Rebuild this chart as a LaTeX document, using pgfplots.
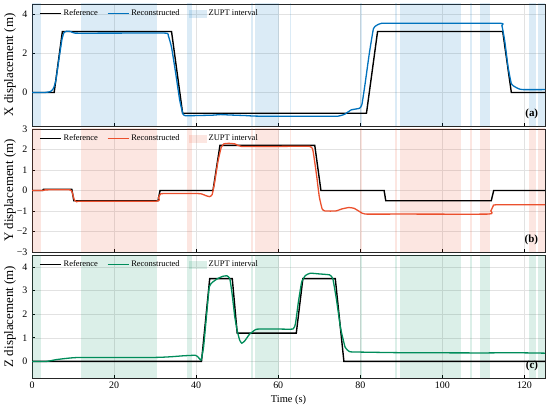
\documentclass[border=0pt]{standalone}
\usepackage{fontspec}
\setmainfont{Liberation Serif}
\usepackage{pgfplots}
\pgfplotsset{compat=1.18}
\definecolor{cblue}{RGB}{0,114,189}
\definecolor{cred}{RGB}{235,80,45}
\definecolor{cgreen}{RGB}{0,140,90}
\definecolor{gridc}{RGB}{226,226,226}

\pgfplotsset{
  myaxis/.style={
    scale only axis, width=513bp, anchor=south west,
    xmin=0, xmax=125, xtick={0,20,...,120},
    grid=major, grid style={gridc, line width=0.5bp},
    tick align=inside, xtick pos=bottom, ytick pos=left,
    major tick length=3bp, tick style={black, line width=0.6bp},
    axis line style={black!85, line width=0.8bp},
    ticklabel style={font=\fontsize{10}{12}\selectfont},
    yticklabel style={xshift=-1bp},
    /pgf/number format/assume math mode=true,
    ylabel style={font=\fontsize{13}{15}\selectfont, at={(axis description cs:-0.031,0.5)}, anchor=south, inner sep=0pt},
    xlabel style={font=\fontsize{10.5}{12}\selectfont},
    legend style={draw=none, fill=none, at={(0.008,0.985)}, anchor=north west,
      font=\fontsize{8.5}{10}\selectfont, legend columns=-1,
      /tikz/every even column/.append style={column sep=7bp}},
  },
}

\newcommand{\zupt}[1]{%
\addplot[draw=none, fill=#1, fill opacity=0.14, forget plot] coordinates {(0,-10) (0,10) (2.1,10) (2.1,-10)};
\addplot[draw=none, fill=#1, fill opacity=0.14, forget plot] coordinates {(11.85,-10) (11.85,10) (30.5,10) (30.5,-10)};
\addplot[draw=none, fill=#1, fill opacity=0.14, forget plot] coordinates {(37.8,-10) (37.8,10) (38.9,10) (38.9,-10)};
\addplot[draw=none, fill=#1, fill opacity=0.14, forget plot] coordinates {(53.45,-10) (53.45,10) (53.8,10) (53.8,-10)};
\addplot[draw=none, fill=#1, fill opacity=0.14, forget plot] coordinates {(54.3,-10) (54.3,10) (60.1,10) (60.1,-10)};
\addplot[draw=none, fill=#1, fill opacity=0.14, forget plot] coordinates {(62.75,-10) (62.75,10) (63.2,10) (63.2,-10)};
\addplot[draw=none, fill=#1, fill opacity=0.14, forget plot] coordinates {(79.9,-10) (79.9,10) (80.3,10) (80.3,-10)};
\addplot[draw=none, fill=#1, fill opacity=0.14, forget plot] coordinates {(88.4,-10) (88.4,10) (89.0,10) (89.0,-10)};
\addplot[draw=none, fill=#1, fill opacity=0.14, forget plot] coordinates {(89.6,-10) (89.6,10) (104.6,10) (104.6,-10)};
\addplot[draw=none, fill=#1, fill opacity=0.14, forget plot] coordinates {(106.8,-10) (106.8,10) (107.2,10) (107.2,-10)};
\addplot[draw=none, fill=#1, fill opacity=0.14, forget plot] coordinates {(109.2,-10) (109.2,10) (111.5,10) (111.5,-10)};
\addplot[draw=none, fill=#1, fill opacity=0.14, forget plot] coordinates {(121.2,-10) (121.2,10) (122.7,10) (122.7,-10)};
\addplot[draw=none, fill=#1, fill opacity=0.14, forget plot] coordinates {(123.2,-10) (123.2,10) (125.5,10) (125.5,-10)};
}
\newcommand{\reflegend}{legend image code/.code={\draw[black, line width=1.4bp] (0bp,0bp) -- (21bp,0bp);}}

\begin{document}
\begin{tikzpicture}
\useasboundingbox (0,0) rectangle (550bp,408bp);

% ---------------- (a) X ----------------
\begin{axis}[myaxis, at={(32bp,282bp)}, height=122bp,
  ymin=-1.7, ymax=4.5, ytick={0,2,4}, xticklabels={},
  ylabel={X displacement (m)}]
\zupt{cblue}
\addplot[black, line width=1.4bp, legend image code/.code={\draw[black, line width=1.4bp] (0bp,0bp) -- (21bp,0bp);}] coordinates {(0,0) (5.4,0) (7.4,3.1) (34.0,3.1) (36.7,-1.05) (81.5,-1.05) (84.2,3.1) (114.7,3.1) (116.8,0) (125,0)};
\addplot[cblue, line width=1.3bp, smooth, tension=0.25, legend image code/.code={\draw[cblue, line width=1.3bp] (0bp,0bp) -- (21bp,0bp);}] coordinates {(0,0) (3,0) (4.5,0.05) (5.2,0.2) (5.8,0.6) (6.5,1.6) (7.3,2.7) (7.8,3.05) (8.5,3.12) (9.5,3.1) (10.5,3.02) (20,3.02) (32.5,3.02) (33.2,2.9) (34,2.3) (35,1.0) (36,-0.4) (36.8,-1.1) (37.5,-1.18) (40,-1.17) (44,-1.15) (46,-1.12) (48,-1.14) (52,-1.17) (55,-1.2) (70,-1.2) (74.6,-1.2) (76.2,-1.1) (77.8,-0.88) (79.8,-0.8) (80.4,-0.6) (81.2,0.5) (82.2,2.0) (83.2,3.25) (84,3.42) (85.2,3.52) (90,3.52) (113.8,3.52) (114.5,3.4) (115.2,2.6) (116,1.3) (116.8,0.45) (117.6,0.3) (118.5,0.2) (119.5,0.15) (125,0.15)};
\addlegendimage{legend image code/.code={\path[draw=none, fill=cblue, fill opacity=0.14] (0bp,-4bp) rectangle (18bp,4bp);}}
\legend{Reference, Reconstructed, ZUPT interval}
\node[font=\bfseries\fontsize{11}{13}\selectfont, anchor=south east, inner sep=0pt] at (rel axis cs:0.987,0.06) {(a)};
\end{axis}

% ---------------- (b) Y ----------------
\begin{axis}[myaxis, at={(32bp,156bp)}, height=123bp,
  ymin=-3, ymax=3, ytick={-3,-2,-1,0,1,2,3}, yticklabels={−3,−2,−1,0,1,2,3}, xticklabels={},
  ylabel={Y displacement (m)}]
\zupt{cred}
\addplot[black, line width=1.4bp, legend image code/.code={\draw[black, line width=1.4bp] (0bp,0bp) -- (21bp,0bp);}] coordinates {(0,0) (2.6,0) (2.8,0.06) (9.7,0.06) (10.2,-0.5) (30.7,-0.5) (31.2,0) (44.1,0) (45.8,2.2) (68.9,2.2) (70.4,0) (85.8,0) (86.2,-0.5) (111.9,-0.5) (112.5,0) (125,0)};
\addplot[cred, line width=1.3bp, smooth, tension=0.25, legend image code/.code={\draw[cred, line width=1.3bp] (0bp,0bp) -- (21bp,0bp);}] coordinates {(0,0) (2.7,0) (3.2,0.03) (9.3,0.03) (9.8,-0.1) (10.3,-0.45) (10.9,-0.55) (12,-0.52) (30.3,-0.52) (30.8,-0.35) (31.3,-0.17) (32,-0.15) (40.5,-0.15) (41.5,-0.18) (42.5,-0.26) (43.3,-0.3) (43.9,-0.2) (44.5,0.4) (45.3,1.4) (46.1,2.1) (46.8,2.28) (48,2.3) (49.5,2.27) (51,2.15) (60,2.15) (67.8,2.15) (68.5,1.9) (69.3,0.8) (70,-0.3) (70.7,-0.9) (71.4,-1.0) (74.0,-1.0) (75.5,-0.9) (77.2,-0.83) (78.5,-0.87) (80,-1.05) (81.2,-1.15) (90,-1.15) (111.3,-1.15) (111.8,-1.0) (112.4,-0.75) (113,-0.7) (125,-0.7)};
\addlegendimage{legend image code/.code={\path[draw=none, fill=cred, fill opacity=0.14] (0bp,-4bp) rectangle (18bp,4bp);}}
\legend{Reference, Reconstructed, ZUPT interval}
\node[font=\bfseries\fontsize{11}{13}\selectfont, anchor=south east, inner sep=0pt] at (rel axis cs:0.987,0.06) {(b)};
\end{axis}

% ---------------- (c) Z ----------------
\begin{axis}[myaxis, at={(32bp,30bp)}, height=123bp,
  ymin=-0.7, ymax=4.5, ytick={0,1,2,3,4},
  ylabel={Z displacement (m)}, xlabel={Time (s)}]
\zupt{cgreen}
\addplot[black, line width=1.4bp, legend image code/.code={\draw[black, line width=1.4bp] (0bp,0bp) -- (21bp,0bp);}] coordinates {(0,0) (41.3,0) (43.3,3.5) (48.8,3.5) (50.0,1.2) (64.4,1.2) (66.0,3.5) (73.9,3.5) (76.0,0) (125,0)};
\addplot[cgreen, line width=1.3bp, smooth, tension=0.25, legend image code/.code={\draw[cgreen, line width=1.3bp] (0bp,0bp) -- (21bp,0bp);}] coordinates {(0,0) (3.5,0) (6,0.08) (9,0.14) (12,0.17) (30,0.17) (34,0.2) (37,0.24) (39.8,0.26) (40.5,0.18) (41.2,0.06) (41.8,0.6) (42.4,1.7) (43.2,3.15) (44,3.35) (45.2,3.5) (46.5,3.6) (47.5,3.62) (48.2,3.5) (48.8,2.8) (49.4,1.9) (50,1.3) (50.6,0.9) (51.1,0.77) (51.8,0.86) (53,1.15) (54.5,1.35) (55.5,1.37) (60,1.37) (63.6,1.37) (64.2,1.6) (64.9,2.5) (65.7,3.35) (66.6,3.63) (67.8,3.73) (70,3.7) (72.5,3.66) (73.3,3.5) (74.2,2.6) (75.2,1.4) (76.3,0.6) (77.3,0.42) (78.5,0.4) (90,0.37) (110,0.36) (117,0.37) (125,0.35)};
\addlegendimage{legend image code/.code={\path[draw=none, fill=cgreen, fill opacity=0.14] (0bp,-4bp) rectangle (18bp,4bp);}}
\legend{Reference, Reconstructed, ZUPT interval}
\node[font=\bfseries\fontsize{11}{13}\selectfont, anchor=south east, inner sep=0pt] at (rel axis cs:0.987,0.06) {(c)};
\end{axis}
\end{tikzpicture}
\end{document}
